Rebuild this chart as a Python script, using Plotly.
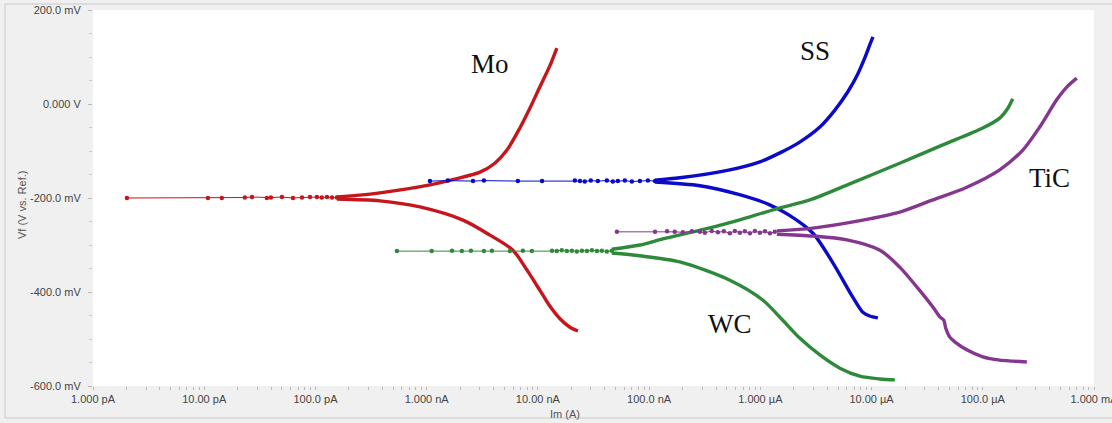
import math
import plotly.graph_objects as go

# ---------------- data (current in A, potential in V) ----------------
# Mo
mo_ecorr_i = [2.02e-12, 1.08e-11, 1.44e-11, 2.32e-11, 2.69e-11, 3.66e-11, 3.98e-11, 5.0e-11,
              6.28e-11, 7.57e-11, 8.93e-11, 1.03e-10, 1.14e-10, 1.27e-10, 1.41e-10, 1.56e-10]
mo_ecorr_e = [-0.200, -0.200, -0.200, -0.199, -0.198, -0.200, -0.199, -0.198,
              -0.200, -0.199, -0.198, -0.198, -0.199, -0.198, -0.199, -0.199]
mo_anod_i = [1.56e-10, 2.51e-10, 3.80e-10, 1.07e-9, 1.52e-9, 3.01e-9, 4.10e-9, 5.27e-9,
             6.89e-9, 8.47e-9, 1.04e-8, 1.28e-8, 1.48e-8]
mo_anod_e = [-0.198, -0.194, -0.189, -0.172, -0.164, -0.145, -0.126, -0.098,
             -0.051, -0.009, 0.036, 0.081, 0.119]
mo_cath_i = [1.56e-10, 3.80e-10, 8.69e-10, 2.12e-9, 3.71e-9, 5.96e-9, 7.96e-9, 1.04e-8,
             1.28e-8, 1.58e-8, 1.94e-8, 2.29e-8]
mo_cath_e = [-0.202, -0.206, -0.219, -0.247, -0.279, -0.311, -0.353, -0.396,
             -0.430, -0.457, -0.475, -0.483]

# SS
ss_ecorr_i = [1.07e-9, 1.55e-9, 2.61e-9, 3.27e-9, 6.61e-9, 1.09e-8, 2.15e-8, 2.39e-8, 2.64e-8,
              2.99e-8, 3.46e-8, 4.17e-8, 4.72e-8, 5.24e-8, 6.05e-8, 7.0e-8, 8.26e-8, 9.75e-8, 1.13e-7]
ss_ecorr_e = [-0.164, -0.163, -0.164, -0.163, -0.164, -0.164, -0.163, -0.164, -0.165,
              -0.163, -0.164, -0.163, -0.165, -0.164, -0.163, -0.165, -0.164, -0.163, -0.164]
ss_anod_i = [1.13e-7, 1.89e-7, 5.32e-7, 9.91e-7, 1.50e-6, 2.26e-6, 3.43e-6, 4.68e-6,
             6.12e-6, 7.52e-6, 8.69e-6, 9.64e-6, 1.03e-5]
ss_anod_e = [-0.162, -0.157, -0.140, -0.123, -0.104, -0.081, -0.049, -0.013,
             0.026, 0.064, 0.098, 0.126, 0.143]
ss_cath_i = [1.13e-7, 2.86e-7, 6.50e-7, 1.20e-6, 1.80e-6, 2.97e-6, 4.49e-6,
             6.78e-6, 8.34e-6, 9.64e-6, 1.14e-5]
ss_cath_e = [-0.166, -0.174, -0.193, -0.214, -0.236, -0.275, -0.338,
             -0.411, -0.443, -0.451, -0.455]

# WC
wc_ecorr_i = [5.40e-10, 1.11e-9, 1.69e-9, 2.07e-9, 2.50e-9, 3.27e-9, 3.86e-9, 5.60e-9, 7.33e-9,
              8.83e-9, 1.34e-8, 1.48e-8, 1.64e-8, 1.82e-8, 2.02e-8, 2.24e-8, 2.49e-8, 2.76e-8,
              3.06e-8, 3.39e-8, 3.76e-8, 4.17e-8, 4.62e-8]
wc_ecorr_e = [-0.313, -0.313, -0.312, -0.313, -0.312, -0.313, -0.312, -0.313, -0.312,
              -0.313, -0.312, -0.313, -0.311, -0.313, -0.312, -0.314, -0.312, -0.313,
              -0.311, -0.313, -0.312, -0.314, -0.312]
wc_anod_i = [4.62e-8, 8.26e-8, 1.33e-7, 3.74e-7, 8.06e-7, 1.50e-6, 2.79e-6, 6.37e-6,
             1.79e-5, 4.37e-5, 1.0e-4, 1.42e-4, 1.68e-4, 1.86e-4]
wc_anod_e = [-0.309, -0.300, -0.287, -0.262, -0.240, -0.221, -0.204, -0.170,
             -0.126, -0.087, -0.051, -0.030, -0.009, 0.011]
wc_cath_i = [4.62e-8, 8.26e-8, 1.89e-7, 5.32e-7, 1.05e-6, 1.59e-6, 2.26e-6, 3.43e-6,
             5.19e-6, 7.84e-6, 1.19e-5, 1.62e-5]
wc_cath_e = [-0.317, -0.323, -0.336, -0.375, -0.417, -0.460, -0.498, -0.534,
             -0.562, -0.579, -0.585, -0.587]

# TiC
tic_ecorr_i = [5.13e-8, 1.13e-7, 1.45e-7, 1.70e-7, 2.01e-7, 2.42e-7, 2.86e-7, 3.17e-7, 3.66e-7,
               4.15e-7, 4.70e-7, 5.32e-7, 5.90e-7, 6.54e-7, 7.26e-7, 8.06e-7, 8.93e-7, 9.91e-7,
               1.10e-6, 1.22e-6, 1.35e-6]
tic_ecorr_e = [-0.272, -0.272, -0.271, -0.272, -0.273, -0.271, -0.272, -0.274, -0.270,
               -0.273, -0.271, -0.275, -0.270, -0.274, -0.271, -0.275, -0.270, -0.274,
               -0.271, -0.275, -0.272]
tic_anod_i = [1.41e-6, 2.97e-6, 8.34e-6, 1.79e-5, 3.56e-5, 7.18e-5, 1.42e-4, 2.29e-4,
              3.25e-4, 4.62e-4, 5.69e-4, 7.0e-4]
tic_anod_e = [-0.270, -0.264, -0.247, -0.230, -0.204, -0.177, -0.140, -0.098,
              -0.049, 0.009, 0.036, 0.055]
tic_cath_i = [1.41e-6, 2.97e-6, 6.0e-6, 1.19e-5, 1.79e-5, 2.55e-5, 3.56e-5, 4.11e-5, 4.46e-5,
              4.65e-5, 5.05e-5, 5.60e-5, 7.18e-5, 1.0e-4, 1.42e-4, 1.86e-4, 2.49e-4]
tic_cath_e = [-0.277, -0.281, -0.289, -0.311, -0.347, -0.389, -0.432, -0.453, -0.460,
              -0.477, -0.496, -0.506, -0.523, -0.538, -0.545, -0.547, -0.549]

# labels
label_text = ["Mo", "SS", "TiC", "WC"]
label_i = [3.7e-9, 3.09e-6, 4.0e-4, 5.32e-7]
label_e = [0.085, 0.113, -0.157, -0.468]

# axes
x_tick_vals = [1e-12, 1e-11, 1e-10, 1e-9, 1e-8, 1e-7, 1e-6, 1e-5, 1e-4, 1e-3]
x_tick_text = ["1.000 pA", "10.00 pA", "100.0 pA", "1.000 nA", "10.00 nA", "100.0 nA",
               "1.000 µA", "10.00 µA", "100.0 µA", "1.000 mA"]
y_tick_vals = [0.2, 0.0, -0.2, -0.4, -0.6]
y_tick_text = ["200.0 mV", "0.000 V", "-200.0 mV", "-400.0 mV", "-600.0 mV"]

# ---------------- figure ----------------
RED = "#c4161c"
BLUE = "#0a0ac8"
GREEN = "#2e8a3a"
PURPLE = "#85368e"

series = [
    (RED, mo_ecorr_i, mo_ecorr_e, mo_anod_i, mo_anod_e, mo_cath_i, mo_cath_e),
    (BLUE, ss_ecorr_i, ss_ecorr_e, ss_anod_i, ss_anod_e, ss_cath_i, ss_cath_e),
    (GREEN, wc_ecorr_i, wc_ecorr_e, wc_anod_i, wc_anod_e, wc_cath_i, wc_cath_e),
    (PURPLE, tic_ecorr_i, tic_ecorr_e, tic_anod_i, tic_anod_e, tic_cath_i, tic_cath_e),
]

fig = go.Figure()
for col, ei, ee, ai, ae, ci, ce in series:
    fig.add_trace(go.Scatter(x=ei, y=ee, mode="lines+markers",
                             line=dict(color=col, width=1),
                             marker=dict(color=col, size=4.5), showlegend=False))
    fig.add_trace(go.Scatter(x=ai, y=ae, mode="lines",
                             line=dict(color=col, width=3.4, shape="spline", smoothing=0.8),
                             showlegend=False))
    fig.add_trace(go.Scatter(x=ci, y=ce, mode="lines",
                             line=dict(color=col, width=3.4, shape="spline", smoothing=0.8),
                             showlegend=False))

for t, xi, ye in zip(label_text, label_i, label_e):
    fig.add_annotation(x=math.log10(xi), y=ye, text=t, showarrow=False,
                       font=dict(family="Liberation Serif, Times New Roman, serif", size=27,
                                 color="#111111"))

# minor tick positions on log axis
x_all_ticks = []
x_all_text = []
for k, base in enumerate(x_tick_vals):
    x_all_ticks.append(base)
    x_all_text.append(x_tick_text[k])
    if base < 1e-3:
        for m in range(2, 10):
            x_all_ticks.append(base * m)
            x_all_text.append("")

tick_font = dict(family="Arial, Liberation Sans, sans-serif", size=11, color="#444444")

fig.update_layout(
    width=1112, height=423,
    margin=dict(l=93, r=18, t=10, b=37),
    paper_bgcolor="#f0f0f0",
    plot_bgcolor="#ffffff",
    xaxis=dict(type="log", range=[-12, -3], tickvals=x_all_ticks, ticktext=x_all_text,
               ticks="outside", ticklen=3, tickcolor="#b8b8b8", tickfont=tick_font,
               ticklabeloverflow="allow", automargin=False,
               showgrid=False, zeroline=False, showline=False),
    yaxis=dict(range=[-0.6, 0.2], tickvals=y_tick_vals, ticktext=y_tick_text,
               ticks="outside", ticklen=4, tickcolor="#b8b8b8", tickfont=tick_font,
               ticklabelstandoff=5, ticklabeloverflow="allow", automargin=False,
               minor=dict(dtick=0.05, ticks="outside", ticklen=3, tickcolor="#c8c8c8"),
               showgrid=False, zeroline=False, showline=False),
)

fig.add_annotation(xref="paper", yref="paper", x=(14 - 93) / 1001, y=(386 - 205) / 376,
                   text="Vf (V vs. Ref.)", textangle=-90, showarrow=False,
                   font=dict(family="Arial, Liberation Sans, sans-serif", size=11, color="#555555"))
fig.add_annotation(xref="paper", yref="paper", x=(565 - 93) / 1001, y=(386 - 414) / 376,
                   yanchor="middle", text="Im (A)", showarrow=False,
                   font=dict(family="Arial, Liberation Sans, sans-serif", size=11, color="#555555"))

# outer frame
fig.add_shape(type="rect", xref="paper", yref="paper",
              x0=(5 - 93) / 1001, x1=(1125 - 93) / 1001,
              y0=(386 - 418) / 376, y1=(386 - 4) / 376,
              line=dict(color="#c8c8c8", width=1), fillcolor="rgba(0,0,0,0)", layer="below")

fig.write_html("out.html")
